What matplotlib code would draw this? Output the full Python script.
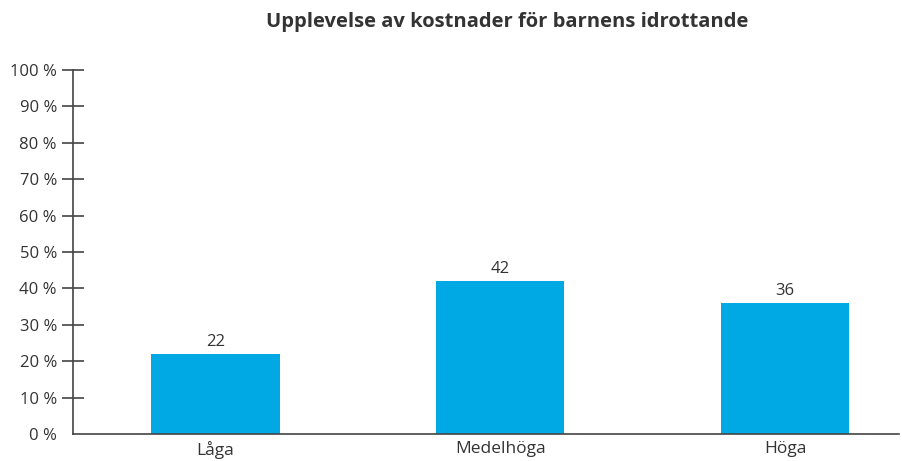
import matplotlib
matplotlib.use("Agg")
import matplotlib.pyplot as plt

categories = ["Låga", "Medelhöga", "Höga"]
values = [22, 42, 36]
yticks = [0, 10, 20, 30, 40, 50, 60, 70, 80, 90, 100]
title = "Upplevelse av kostnader för barnens idrottande"

plt.rcParams['font.family'] = ['Open Sans', 'DejaVu Sans']
txt = "#333333"

fig = plt.figure(figsize=(9.03, 4.61), dpi=100)
ax = fig.add_axes([73/903, 1-434/461, (899-73)/903, (434-70)/461])

x = list(range(len(categories)))
ax.bar(x, values, width=0.45, color="#00A9E3")
for xi, v in zip(x, values):
    ax.text(xi, v + 1.2, str(v), ha="center", va="bottom", fontsize=12, color=txt)

ax.set_xlim(-0.5, 2.4)
ax.set_ylim(0, 100)
ax.set_yticks(yticks)
ax.set_yticklabels([f"{t} %" for t in yticks], fontsize=12, color=txt)
ax.set_xticks(x)
ax.set_xticklabels(categories, fontsize=12.5, color=txt)
ax.tick_params(axis="x", length=0, pad=5)
ax.tick_params(axis="y", direction="inout", length=16, width=1.2, color="#444444", pad=3.6)
# hide 0 tick mark
ax.yaxis.get_major_ticks()[0].tick1line.set_visible(False)
for s in ["top", "right"]:
    ax.spines[s].set_visible(False)
for s in ["left", "bottom"]:
    ax.spines[s].set_color("#444444")
    ax.spines[s].set_linewidth(1.2)

fig.text(507/903, 1-22/461, title, ha="center", va="center", fontsize=14.5, fontweight="bold", color=txt)

fig.savefig("out.png", dpi=100)
